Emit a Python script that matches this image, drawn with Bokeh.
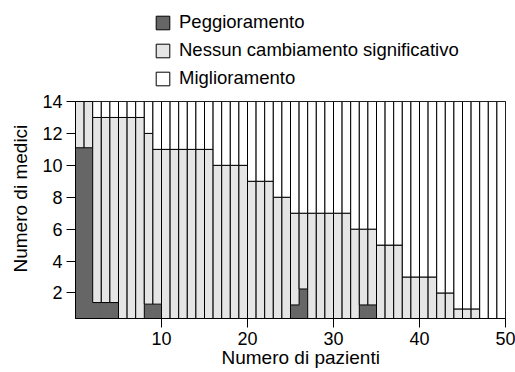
from bokeh.plotting import figure
from bokeh.layouts import column
from bokeh.models import Range1d, Legend, LegendItem, FixedTicker, Title, ColumnDataSource
from bokeh.embed import file_html
from bokeh.resources import INLINE

# Data
pazienti = list(range(1, 51))
peggioramento = [11.1, 11.1, 1.4, 1.4, 1.4, 0, 0, 0, 1.3, 1.3,
                 0, 0, 0, 0, 0, 0, 0, 0, 0, 0,
                 0, 0, 0, 0, 0, 1.25, 2.25, 0, 0, 0,
                 0, 0, 0, 1.25, 1.25, 0, 0, 0, 0, 0,
                 0, 0, 0, 0, 0, 0, 0, 0, 0, 0]
nessun_cambiamento = [2.9, 2.9, 11.6, 11.6, 11.6, 13, 13, 13, 10.7, 9.7,
                      11, 11, 11, 11, 11, 11, 10, 10, 10, 10,
                      9, 9, 9, 8, 8, 5.75, 4.75, 7, 7, 7,
                      7, 7, 6, 4.75, 4.75, 5, 5, 5, 3, 3,
                      3, 3, 2, 2, 1, 1, 1, 0, 0, 0]
miglioramento = [0, 0, 1, 1, 1, 1, 1, 1, 2, 3,
                 3, 3, 3, 3, 3, 3, 4, 4, 4, 4,
                 5, 5, 5, 6, 6, 7, 7, 7, 7, 7,
                 7, 8, 8, 8, 8, 9, 9, 9, 11, 11,
                 11, 11, 12, 12, 13, 13, 13, 14, 14, 14]
x_ticks = [10, 20, 30, 40, 50]
y_ticks = [2, 4, 6, 8, 10, 12, 14]
labels = ["Peggioramento", "Nessun cambiamento significativo", "Miglioramento"]
series = ["pegg", "ness", "migl"]
colors = ["#666666", "#e5e5e5", "#ffffff"]

FONT = "Liberation Sans"
FS_TICK = "18px"
FS_LEG = "18.5px"
FS_LAB = "19px"

W = 515
H_TOP = 92
H_MAIN = 372 - H_TOP

x = [v - 0.5 for v in pazienti]
data = dict(x=x, pegg=peggioramento, ness=nessun_cambiamento, migl=miglioramento)

# ---- legend strip (its bars are out of its visible range; only the legend shows) ----
top = figure(width=W, height=H_TOP, x_range=Range1d(0, 50), y_range=Range1d(100, 101),
             output_backend="svg", toolbar_location=None,
             x_axis_type=None, y_axis_type=None,
             min_border_left=75, min_border_right=10, min_border_top=0, min_border_bottom=0)
top.grid.visible = False
top.outline_line_color = None
top_src = ColumnDataSource(data)
proxies = [top.vbar(x="x", top=s, width=1, source=top_src, fill_color=c,
                    line_color="black", line_width=1)
           for s, c in zip(series, colors)]
legend = Legend(items=[LegendItem(label=l, renderers=[r]) for l, r in zip(labels, proxies)],
                orientation="vertical", location=(79, 3), margin=0, padding=0,
                spacing=6, label_height=21, glyph_height=17, glyph_width=17,
                label_standoff=8, label_text_font=FONT, label_text_font_size=FS_LEG,
                label_text_color="black", border_line_color=None, background_fill_alpha=0)
top.add_layout(legend, "center")

# ---- main chart ----
p = figure(width=W, height=H_MAIN, x_range=Range1d(0, 50), y_range=Range1d(0.4, 14),
           output_backend="svg", toolbar_location=None,
           min_border_left=75, min_border_right=10, min_border_top=9, min_border_bottom=54)

p.vbar_stack(series, x="x", width=1, source=ColumnDataSource(data),
             fill_color=colors,
             line_color=[colors[0], "black", "black"], line_width=1)

p.grid.visible = False
p.outline_line_color = "black"
p.outline_line_alpha = 1

for ax in (p.xaxis[0], p.yaxis[0]):
    ax.major_tick_out = 9
    ax.major_tick_in = 0
    ax.minor_tick_line_color = None
    ax.axis_line_color = "black"
    ax.major_tick_line_color = "black"
    ax.major_label_text_font = FONT
    ax.major_label_text_font_size = FS_TICK
    ax.major_label_text_color = "black"
    ax.major_label_standoff = 4

p.xaxis[0].ticker = FixedTicker(ticks=x_ticks)
p.yaxis[0].ticker = FixedTicker(ticks=y_ticks)

ylab = Title(text="Numero di medici", align="left", offset=46, standoff=14,
             vertical_align="top",
             text_font=FONT, text_font_size=FS_LAB, text_font_style="normal", text_color="black")
p.add_layout(ylab, "left")
xlab = Title(text="Numero di pazienti", align="left", offset=146, standoff=-6,
             text_font=FONT, text_font_size=FS_LAB, text_font_style="normal", text_color="black")
p.add_layout(xlab, "below")

open("out.html", "w").write(file_html(column(top, p, spacing=0), INLINE))
